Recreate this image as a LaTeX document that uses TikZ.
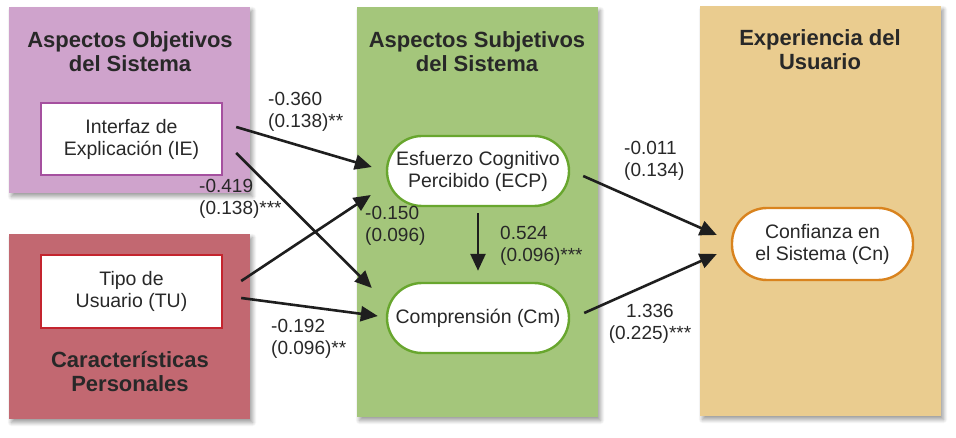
\documentclass[tikz,border=0pt]{standalone}
\usepackage{fontspec}
\setmainfont{Liberation Sans}
\usetikzlibrary{shadows.blur,arrows.meta,calc}
\definecolor{purp}{RGB}{207,163,204}
\definecolor{purpb}{RGB}{165,80,159}
\definecolor{redb}{RGB}{194,104,113}
\definecolor{redbd}{RGB}{196,36,46}
\definecolor{grn}{RGB}{164,198,123}
\definecolor{grnb}{RGB}{104,166,46}
\definecolor{org}{RGB}{234,204,143}
\definecolor{orgb}{RGB}{217,131,30}
\definecolor{txt}{RGB}{40,40,40}
\definecolor{arrc}{RGB}{30,30,30}
\begin{document}
\begin{tikzpicture}[x=1pt,y=-1pt,
  region/.style={inner sep=0pt, minimum width=241pt, text=txt,
    blur shadow={shadow xshift=2.5pt, shadow yshift=-3.5pt, shadow blur steps=8, shadow blur radius=4pt, shadow opacity=40}},
  ttl/.style={align=center, text=txt, inner sep=0pt, font=\fontsize{22}{24}\selectfont\bfseries},
  box/.style={draw, fill=white, line width=2.4pt, minimum width=181pt, minimum height=72pt,
    align=center, text=txt, inner sep=0pt, font=\fontsize{19.5}{22}\selectfont},
  pill/.style={box, rounded corners=35pt, minimum width=182pt, minimum height=70pt},
  lbl/.style={align=left, text=txt, inner sep=0pt, font=\fontsize{19}{22}\selectfont},
  arr/.style={draw=arrc, line width=2.6pt, -{Triangle[length=17pt,width=15pt]}}
]
\useasboundingbox (0,0) rectangle (956,438);
% regions
\node[region, fill=purp, minimum height=186pt] (obj) at (129.5,100) {};
\node[region, fill=redb, minimum height=185pt] (per) at (129.5,326.5) {};
\node[region, fill=grn, minimum height=410pt] (sub) at (477.5,212) {};
\node[region, fill=org, minimum height=410pt] (exp) at (820.5,211) {};
% titles
\node[ttl] (tobj) at (130,52) {Aspectos Objetivos\\del Sistema};
\node[ttl] (tsub) at (477,51.5) {Aspectos Subjetivos\\del Sistema};
\node[ttl] (texp) at (820,50) {Experiencia del\\Usuario};
\node[ttl] (tper) at (130,371.5) {Características\\Personales};
% inner nodes
\node[box, draw=purpb] (IE) at (131.5,139) {Interfaz de\\Explicación (IE)};
\node[box, draw=redbd, minimum height=73pt] (TU) at (131.5,291.5) {Tipo de\\Usuario (TU)};
\node[pill, draw=grnb] (ECP) at (478,171) {Esfuerzo Cognitivo\\Percibido (ECP)};
\node[pill, draw=grnb] (Cm) at (478,318) {Comprensión (Cm)};
\node[pill, draw=orgb, minimum width=181pt, minimum height=72pt] (Cn) at (822.5,244) {Confianza en\\el Sistema (Cn)};
% arrows
\draw[arr] ($(IE.east)+(13,-12)$) -- ($(ECP.west)+(-14,-4)$);
\draw[arr] ($(IE.east)+(13,14)$) -- ($(Cm.west)+(-14,-30)$);
\draw[arr] ($(TU.east)+(18,-10.5)$) -- ($(ECP.west)+(-15,24)$);
\draw[arr] ($(TU.east)+(18,6.5)$) -- ($(Cm.west)+(-8,-2)$);
\draw[arr] ($(ECP.south)+(0,6)$) -- ($(Cm.north)+(0,-11)$);
\draw[arr] ($(ECP.east)+(13,5)$) -- ($(Cn.west)+(-14,-9)$);
\draw[arr] ($(Cm.east)+(14,-5)$) -- ($(Cn.west)+(-14,10)$);
% labels
\node[lbl, anchor=west] (l1) at (268,112) {-0.360\\(0.138)**};
\node[lbl, anchor=west] (l2) at (199,199) {-0.419\\(0.138)***};
\node[lbl, anchor=west] (l3) at (365,226) {-0.150\\(0.096)};
\node[lbl, anchor=west] (l4) at (500,246) {0.524\\(0.096)***};
\node[lbl, anchor=west] (l5) at (271,339) {-0.192\\(0.096)**};
\node[lbl, anchor=west] (l6) at (624,161) {-0.011\\(0.134)};
\node[lbl, align=center] (l7) at (650,324) {1.336\\(0.225)***};
\end{tikzpicture}
\end{document}
